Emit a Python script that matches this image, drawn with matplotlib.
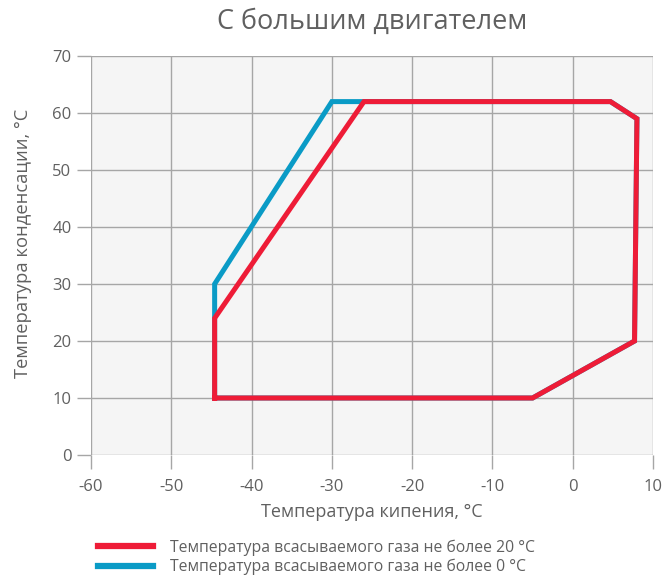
import matplotlib
matplotlib.use("Agg")
import matplotlib.pyplot as plt
from matplotlib.lines import Line2D

plt.rcParams['font.family'] = ['Open Sans', 'DejaVu Sans']
plt.rcParams['axes.unicode_minus'] = False

title = "С большим двигателем"
xlabel = "Температура кипения, °C"
ylabel = "Температура конденсации, °C"
label_red = "Температура всасываемого газа не более 20 °C"
label_blue = "Температура всасываемого газа не более 0 °C"

x_ticks = [-60, -50, -40, -30, -20, -10, 0, 10]
y_ticks = [0, 10, 20, 30, 40, 50, 60, 70]

red_x = [-44.6, -5, 7.7, 8, 4.7, -26, -44.6, -44.6]
red_y = [10, 10, 20, 59, 62, 62, 24, 10]

blue_x = [-44.6, -5, 7.7, 8, 4.7, -30, -44.6, -44.6]
blue_y = [10, 10, 20, 59, 62, 62, 30, 10]

RED = "#ee1c37"
BLUE = "#0a9bc6"
GRID = "#a6a6a6"
TXT = "#606060"

fig = plt.figure(figsize=(6.67, 5.75), dpi=100)
ax = fig.add_axes([91/667, 1-455/575, (653-91)/667, (455-56)/575])
ax.set_facecolor("#f5f5f5")

ax.plot(blue_x, blue_y, color=BLUE, lw=3.6, solid_joinstyle='miter', zorder=3)
ax.plot(red_x, red_y, color=RED, lw=3.6, solid_joinstyle='miter', zorder=4)

ax.set_xlim(-60, 10)
ax.set_ylim(0, 70)
ax.set_xticks(x_ticks)
ax.set_yticks(y_ticks)
ax.set_xticklabels([str(v) for v in x_ticks])
ax.set_yticklabels([str(v) for v in y_ticks])
ax.grid(True, color=GRID, lw=1.0, zorder=1)
ax.set_axisbelow(True)
for s in ax.spines.values():
    s.set_visible(False)
ax.tick_params(axis='both', colors=GRID, length=10, width=1.0,
               labelcolor=TXT, labelsize=12)
ax.tick_params(axis='x', pad=7)
ax.tick_params(axis='y', pad=4)

fig.text(372/667, 1-22/575, title, ha='center', va='center', fontsize=19.5, color=TXT)
ax.set_xlabel(xlabel, fontsize=13, color=TXT, labelpad=6)
ax.set_ylabel(ylabel, fontsize=13.2, color=TXT, va='center', ha='center')
ax.yaxis.set_label_coords((23 - 91) / 562, (455 - 243) / 399)

handles = [Line2D([], [], color=RED, lw=4.5), Line2D([], [], color=BLUE, lw=4.5)]
fig.legend(handles, [label_red, label_blue], loc='upper left',
           bbox_to_anchor=(92/667, 1-533/575), frameon=False, fontsize=11.3,
           handlelength=3.5, handletextpad=1.1, labelspacing=0.2,
           labelcolor=TXT, borderaxespad=0)

fig.savefig("out.png", dpi=100)
